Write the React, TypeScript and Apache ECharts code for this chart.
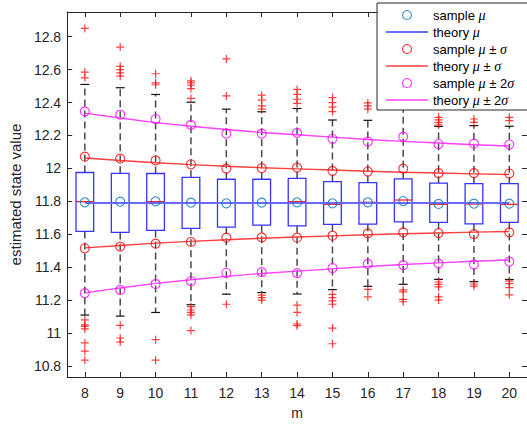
import React, { useEffect, useRef } from "react";
import * as echarts from "echarts";

const mValues = [8, 9, 10, 11, 12, 13, 14, 15, 16, 17, 18, 19, 20];
const yTicks = [10.8, 11, 11.2, 11.4, 11.6, 11.8, 12, 12.2, 12.4, 12.6, 12.8];

const q1 = [11.617, 11.611, 11.623, 11.636, 11.643, 11.655, 11.651, 11.66, 11.661, 11.675, 11.672, 11.663, 11.672];
const q3 = [11.975, 11.97, 11.969, 11.946, 11.934, 11.934, 11.939, 11.92, 11.914, 11.937, 11.91, 11.907, 11.907];
const medians = [11.798, 11.79, 11.798, 11.79, 11.79, 11.79, 11.798, 11.782, 11.794, 11.808, 11.782, 11.784, 11.782];
const whiskerLow = [11.109, 11.103, 11.125, 11.172, 11.236, 11.246, 11.237, 11.264, 11.284, 11.296, 11.326, 11.312, 11.325];
const whiskerHigh = [12.51, 12.49, 12.449, 12.402, 12.36, 12.344, 12.364, 12.294, 12.292, 12.38, 12.255, 12.26, 12.256];

const highOutliers = [
  [12.85, 12.585, 12.55],
  [12.737, 12.62, 12.6, 12.58, 12.56],
  [12.575, 12.52, 12.508],
  [12.532, 12.52, 12.505, 12.485, 12.425],
  [12.665, 12.44],
  [12.445, 12.415, 12.38, 12.36],
  [12.48, 12.45, 12.42, 12.395],
  [12.43, 12.4, 12.372, 12.345],
  [12.398, 12.38, 12.36],
  [],
  [12.31, 12.295, 12.28, 12.265],
  [12.3, 12.28],
  [12.31, 12.29],
];
const lowOutliers = [
  [11.08, 11.05, 11.04, 11.025, 10.94, 10.89, 10.835],
  [11.047, 10.97, 10.945],
  [10.96, 10.835],
  [11.16, 11.14, 11.125, 11.11, 11.015],
  [11.175],
  [11.23, 11.215, 11.2],
  [11.17, 11.125, 11.055, 11.045],
  [11.235, 11.215, 11.195, 11.175, 11.03, 10.935],
  [11.265, 11.22],
  [11.262, 11.25, 11.205, 11.19],
  [11.31, 11.295, 11.28, 11.22, 11.2],
  [11.298, 11.285],
  [11.315, 11.3, 11.276, 11.232],
];

const sampleMean = [11.794, 11.798, 11.8, 11.792, 11.788, 11.792, 11.794, 11.788, 11.794, 11.802, 11.784, 11.786, 11.786];
const theoryMean = [11.79, 11.79, 11.79, 11.79, 11.79, 11.79, 11.79, 11.79, 11.79, 11.79, 11.79, 11.79, 11.79];
const sampleUpper1 = [12.071, 12.059, 12.049, 12.025, 11.999, 12.002, 12.005, 11.985, 11.981, 11.999, 11.971, 11.971, 11.969];
const sampleLower1 = [11.515, 11.525, 11.543, 11.553, 11.579, 11.581, 11.579, 11.591, 11.605, 11.611, 11.607, 11.601, 11.611];
const theoryUpper1 = [12.063, 12.048, 12.034, 12.023, 12.013, 12.004, 11.997, 11.99, 11.983, 11.977, 11.972, 11.967, 11.963];
const theoryLower1 = [11.517, 11.532, 11.546, 11.557, 11.567, 11.576, 11.583, 11.59, 11.597, 11.603, 11.608, 11.613, 11.617];
const sampleUpper2 = [12.346, 12.326, 12.3, 12.264, 12.211, 12.211, 12.216, 12.18, 12.163, 12.193, 12.148, 12.15, 12.145];
const sampleLower2 = [11.242, 11.262, 11.298, 11.316, 11.366, 11.37, 11.364, 11.395, 11.42, 11.413, 11.422, 11.416, 11.434];
const theoryUpper2 = [12.336, 12.306, 12.278, 12.256, 12.236, 12.218, 12.204, 12.19, 12.176, 12.164, 12.154, 12.144, 12.136];
const theoryLower2 = [11.244, 11.274, 11.302, 11.324, 11.344, 11.362, 11.376, 11.39, 11.404, 11.416, 11.426, 11.436, 11.444];

const NAMES = {
  sMu: "sample μ",
  tMu: "theory μ",
  s1: "sample μ ± σ",
  t1: "theory μ ± σ",
  s2: "sample μ ± 2σ",
  t2: "theory μ ± 2σ",
};

const C_SMU = "#0072BD";
const C_TMU = "#6a6aff";
const C_RED = "#ff0000";
const C_TRED = "#ff4040";
const C_MAG = "#ff00ff";
const C_TMAG = "#ff40ff";
const AXIS = "#262626";
const FONT = "Liberation Sans";

const pairs = (ys: number[]) => mValues.map((m, i) => [m, ys[i]]);

export default function App() {
  const ref = useRef<HTMLDivElement>(null);
  useEffect(() => {
    if (!ref.current) return;
    const chart = echarts.init(ref.current, null, { renderer: "svg" });

    const boxData = mValues.map((m, i) => [m, whiskerLow[i], q1[i], medians[i], q3[i], whiskerHigh[i]]);
    const outlierData: number[][] = [];
    mValues.forEach((m, i) => {
      highOutliers[i].forEach((v) => outlierData.push([m, v]));
      lowOutliers[i].forEach((v) => outlierData.push([m, v]));
    });

    const renderBox = (params: any, api: any) => {
      const x = api.value(0);
      const pWl = api.coord([x, api.value(1)]);
      const pQ1 = api.coord([x, api.value(2)]);
      const pMed = api.coord([x, api.value(3)]);
      const pQ3 = api.coord([x, api.value(4)]);
      const pWh = api.coord([x, api.value(5)]);
      const unit = api.size([1, 0])[0];
      const hw = unit * 0.25;
      const cw = hw * 0.5;
      const cx = pQ1[0];
      const whiskerStyle = { stroke: "#4a4a4a", lineWidth: 1.5, lineDash: [7, 4] };
      const capStyle = { stroke: "#111111", lineWidth: 1.2 };
      const boxStyle = { stroke: "#3535ff", lineWidth: 1.3, fill: "none" };
      return {
        type: "group",
        children: [
          { type: "line", shape: { x1: cx, y1: pQ3[1], x2: cx, y2: pWh[1] }, style: whiskerStyle },
          { type: "line", shape: { x1: cx, y1: pQ1[1], x2: cx, y2: pWl[1] }, style: whiskerStyle },
          { type: "line", shape: { x1: cx - cw, y1: pWh[1], x2: cx + cw, y2: pWh[1] }, style: capStyle },
          { type: "line", shape: { x1: cx - cw, y1: pWl[1], x2: cx + cw, y2: pWl[1] }, style: capStyle },
          { type: "rect", shape: { x: cx - hw, y: pQ3[1], width: hw * 2, height: pQ1[1] - pQ3[1] }, style: boxStyle },
          { type: "line", shape: { x1: cx - hw, y1: pMed[1], x2: cx + hw, y2: pMed[1] }, style: { stroke: "#ff2020", lineWidth: 1.3 } },
        ],
      };
    };

    const circleStyle = (c: string) => ({ color: "rgba(0,0,0,0)", borderColor: c, borderWidth: 1.1 });
    const lineSeries = (name: string, ys: number[], c: string, w: number) => ({
      type: "line",
      name,
      data: pairs(ys),
      symbol: "none",
      showSymbol: false,
      lineStyle: { color: c, width: w },
      itemStyle: { color: c },
      z: 3,
    });
    const scatterSeries = (name: string, data: number[][], c: string) => ({
      type: "scatter",
      name,
      data,
      symbol: "circle",
      symbolSize: 9,
      itemStyle: circleStyle(c),
      z: 4,
    });
    const lineIcon = (h: number) => `path://M0,0 L42,0 L42,${h} L0,${h} Z`;

    const legendFormatter = (name: string) =>
      name
        .split(/([μσ])/)
        .filter((s) => s.length > 0)
        .map((s) => (s === "μ" || s === "σ" ? `{g|${s}}` : `{t|${s}}`))
        .join("");

    const tickFmt = (v: number) => String(Math.round(v * 10) / 10);

    chart.setOption({
      animation: false,
      backgroundColor: "#ffffff",
      grid: { left: 63, top: 12, right: -4, bottom: 44, containLabel: false },
      xAxis: [
        {
          type: "value",
          min: 7.5,
          max: 20.5,
          position: "bottom",
          name: "m",
          nameLocation: "middle",
          nameGap: 29,
          nameTextStyle: { fontFamily: FONT, fontSize: 14, color: AXIS },
          axisLine: { show: true, lineStyle: { color: AXIS, width: 1 } },
          axisTick: { show: true, inside: true, length: 5, customValues: mValues, lineStyle: { color: AXIS } },
          axisLabel: { show: true, customValues: mValues, margin: 9, fontFamily: FONT, fontSize: 14, color: AXIS },
          splitLine: { show: false },
        },
        {
          type: "value",
          min: 7.5,
          max: 20.5,
          position: "top",
          axisLine: { show: true, lineStyle: { color: AXIS, width: 1 } },
          axisTick: { show: true, inside: true, length: 5, customValues: mValues, lineStyle: { color: AXIS } },
          axisLabel: { show: false },
          splitLine: { show: false },
        },
      ],
      yAxis: [
        {
          type: "value",
          min: 10.733,
          max: 12.95,
          position: "left",
          name: "estimated state value",
          nameLocation: "middle",
          nameGap: 38,
          nameTextStyle: { fontFamily: FONT, fontSize: 15, color: AXIS },
          axisLine: { show: true, lineStyle: { color: AXIS, width: 1 } },
          axisTick: { show: true, inside: true, length: 5, customValues: yTicks, lineStyle: { color: AXIS } },
          axisLabel: { show: true, customValues: yTicks, margin: 6, fontFamily: FONT, fontSize: 14, color: AXIS, formatter: tickFmt },
          splitLine: { show: false },
        },
        {
          type: "value",
          min: 10.733,
          max: 12.95,
          position: "right",
          axisLine: { show: true, lineStyle: { color: AXIS, width: 1 } },
          axisTick: { show: true, inside: true, length: 5, customValues: yTicks, lineStyle: { color: AXIS } },
          axisLabel: { show: false },
          splitLine: { show: false },
        },
      ],
      legend: {
        orient: "vertical",
        left: 377,
        top: 3,
        itemWidth: 42,
        itemHeight: 9,
        itemGap: 3,
        padding: [5, 24, 3, 9],
        backgroundColor: "#ffffff",
        borderColor: AXIS,
        borderWidth: 1,
        borderRadius: 0,
        selectedMode: false,
        z: 20,
        formatter: legendFormatter,
        textStyle: {
          color: "#000",
          rich: {
            t: { fontFamily: FONT, fontSize: 13, lineHeight: 15, color: "#000" },
            g: { fontFamily: "Liberation Serif", fontStyle: "italic", fontSize: 14, lineHeight: 15, color: "#000" },
          },
        },
        data: [
          { name: NAMES.sMu, icon: "circle", itemStyle: circleStyle(C_SMU) },
          { name: NAMES.tMu, icon: lineIcon(2), itemStyle: { color: C_TMU, borderWidth: 0 } },
          { name: NAMES.s1, icon: "circle", itemStyle: circleStyle(C_RED) },
          { name: NAMES.t1, icon: lineIcon(1.5), itemStyle: { color: C_TRED, borderWidth: 0 } },
          { name: NAMES.s2, icon: "circle", itemStyle: circleStyle(C_MAG) },
          { name: NAMES.t2, icon: lineIcon(1.5), itemStyle: { color: C_TMAG, borderWidth: 0 } },
        ],
      },
      series: [
        {
          type: "custom",
          name: "box",
          data: boxData,
          renderItem: renderBox,
          encode: { x: 0, y: [1, 2, 3, 4, 5] },
          z: 1,
        },
        {
          type: "scatter",
          name: "outliers",
          data: outlierData,
          symbol: "path://M5,0 L5,10 M0,5 L10,5",
          symbolSize: 8,
          itemStyle: { color: "none", borderColor: "#ff1010", borderWidth: 1.2 },
          z: 2,
        },
        scatterSeries(NAMES.sMu, pairs(sampleMean), C_SMU),
        lineSeries(NAMES.tMu, theoryMean, C_TMU, 2),
        scatterSeries(NAMES.s1, [...pairs(sampleUpper1), ...pairs(sampleLower1)], C_RED),
        lineSeries(NAMES.t1, theoryUpper1, C_TRED, 1.4),
        lineSeries(NAMES.t1, theoryLower1, C_TRED, 1.4),
        scatterSeries(NAMES.s2, [...pairs(sampleUpper2), ...pairs(sampleLower2)], C_MAG),
        lineSeries(NAMES.t2, theoryUpper2, C_TMAG, 1.4),
        lineSeries(NAMES.t2, theoryLower2, C_TMAG, 1.4),
      ],
    });
    return () => chart.dispose();
  }, []);
  return <div ref={ref} style={{ position: "fixed", left: 0, top: 0, width: 527, height: 425 }} />;
}
